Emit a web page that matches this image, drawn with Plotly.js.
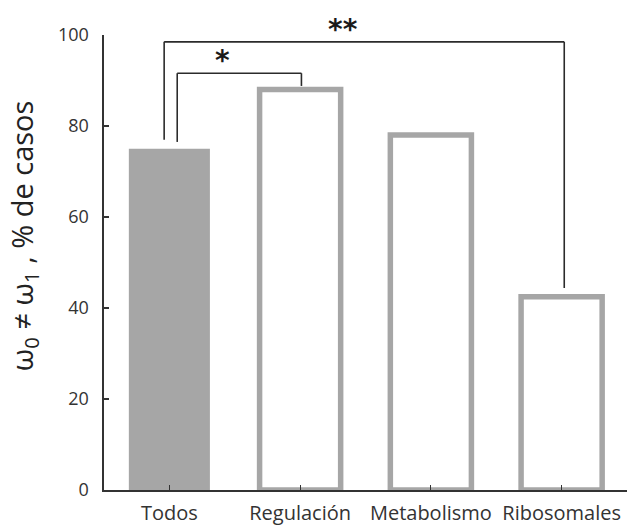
<!DOCTYPE html>
<html>
<head>
<meta charset="utf-8">
<script src="https://cdn.plot.ly/plotly-3.0.1.min.js"></script>
<style>
  html, body { margin: 0; padding: 0; background: #ffffff; }
  #chart { width: 631px; height: 527px; }
</style>
</head>
<body>
<div id="chart"></div>
<script>
// Share of cases with omega0 != omega1, by gene category
const categories = ['Todos', 'Regulación', 'Metabolismo', 'Ribosomales'];
const percentCases = [75, 88, 78, 42.5];
const yTickValues = [0, 20, 40, 60, 80, 100];
const yTickLabels = ['0', '20', '40', '60', '80', '100'];

// Significance brackets: [left x, right x, bar level, left foot, right foot, label]
const bracketLabels = ['*', '**'];
const bracketLeft = [0.06, -0.04];
const bracketRight = [1.01, 3.02];
const bracketLevel = [91.6, 98.5];
const bracketLeftFoot = [76.5, 77];
const bracketRightFoot = [88.8, 44.4];

const barGrey = '#a6a6a6';
const fillColors = [barGrey, '#ffffff', '#ffffff', '#ffffff'];
const lineWidths = [0, 5.5, 5.5, 5.5];

const trace = {
  type: 'bar',
  x: categories,
  y: percentCases,
  width: 0.62,
  marker: {
    color: fillColors,
    line: { color: barGrey, width: lineWidths }
  },
  hoverinfo: 'x+y'
};

const shapes = [];
const annotations = [];
const bracketLine = { color: '#2b2b2b', width: 1.6 };
for (let i = 0; i < bracketLabels.length; i++) {
  const xl = bracketLeft[i], xr = bracketRight[i], yb = bracketLevel[i];
  shapes.push({ type: 'line', xref: 'x', yref: 'y', x0: xl, x1: xl, y0: bracketLeftFoot[i], y1: yb, line: bracketLine });
  shapes.push({ type: 'line', xref: 'x', yref: 'y', x0: xl, x1: xr, y0: yb, y1: yb, line: bracketLine });
  shapes.push({ type: 'line', xref: 'x', yref: 'y', x0: xr, x1: xr, y0: yb, y1: bracketRightFoot[i], line: bracketLine });
  annotations.push({
    xref: 'x', yref: 'y',
    x: (xl + xr) / 2 - (i === 0 ? 0.13 : 0.16),
    y: yb,
    yanchor: 'bottom',
    yshift: -6,
    text: '<b>' + bracketLabels[i] + '</b>',
    showarrow: false,
    font: { family: 'DejaVu Sans', size: 28, color: '#1a1a1a' }
  });
}

// Rotated axis title placed by hand
annotations.push({
  xref: 'paper', yref: 'paper',
  x: -0.155, y: 0.56,
  xanchor: 'center', yanchor: 'middle',
  textangle: -90,
  text: 'ω<sub>0</sub> ≠ ω<sub>1</sub> , % de casos',
  showarrow: false,
  font: { family: 'Open Sans', size: 29, color: '#222222' }
});

const layout = {
  width: 631,
  height: 527,
  margin: { l: 103.5, r: 3.5, t: 35, b: 37 },
  paper_bgcolor: '#ffffff',
  plot_bgcolor: '#ffffff',
  showlegend: false,
  font: { family: 'Open Sans', size: 18, color: '#333333' },
  xaxis: {
    type: 'category',
    range: [-0.5, 3.5],
    showgrid: false,
    zeroline: false,
    showline: true,
    linecolor: '#333333',
    linewidth: 1.6,
    ticks: 'inside',
    ticklen: 5,
    tickwidth: 1.2,
    tickcolor: '#333333',
    ticklabelstandoff: 4,
    tickfont: { family: 'Open Sans', size: 20, color: '#333333' }
  },
  yaxis: {
    range: [0, 100],
    tickvals: yTickValues,
    ticktext: yTickLabels,
    showgrid: false,
    zeroline: false,
    showline: true,
    linecolor: '#333333',
    linewidth: 1.6,
    ticks: 'inside',
    ticklen: 5,
    tickwidth: 1.2,
    tickcolor: '#333333',
    ticklabelstandoff: 10,
    tickfont: { family: 'Open Sans', size: 18, color: '#333333' }
  },
  shapes: shapes,
  annotations: annotations
};

Plotly.newPlot('chart', [trace], layout, { displayModeBar: false, staticPlot: true });
</script>
</body>
</html>
